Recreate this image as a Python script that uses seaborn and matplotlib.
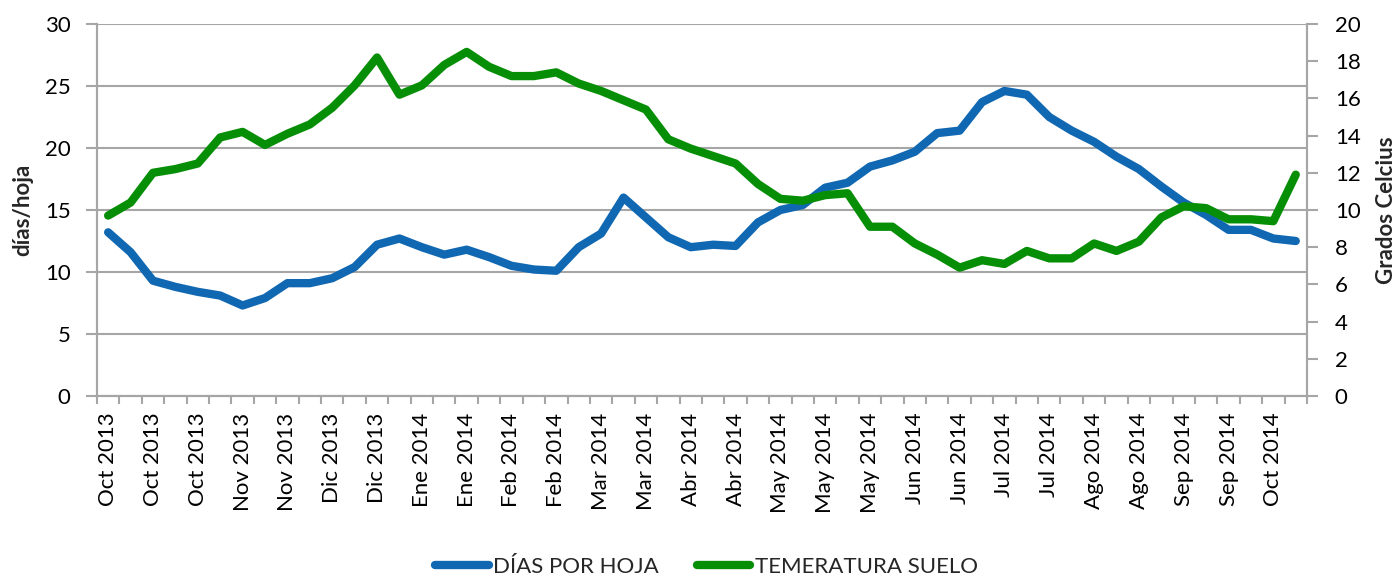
import numpy as np
import pandas as pd
import matplotlib
matplotlib.use('Agg')
import matplotlib.pyplot as plt
import seaborn as sns

# días por hoja (eje izquierdo), un valor por categoría
dias_por_hoja = [13.2, 11.6, 9.3, 8.8, 8.4, 8.1, 7.3, 7.9, 9.1, 9.1, 9.5,
                 10.4, 12.2, 12.7, 12.0, 11.4, 11.8, 11.2, 10.5, 10.2, 10.1,
                 12.0, 13.1, 16.0, 14.4, 12.8, 12.0, 12.2, 12.1, 14.0, 15.0, 15.4,
                 16.8, 17.2, 18.5, 19.0, 19.7, 21.2, 21.4, 23.7, 24.6, 24.3, 22.5,
                 21.4, 20.5, 19.3, 18.3, 16.9, 15.6, 14.6, 13.4, 13.4, 12.7, 12.5]

# temperatura del suelo (eje derecho, grados)
temp_suelo = [9.7, 10.4, 12.0, 12.2, 12.5, 13.9, 14.2, 13.5, 14.1, 14.6, 15.5,
              16.7, 18.2, 16.2, 16.7, 17.8, 18.5, 17.7, 17.2, 17.2, 17.4,
              16.8, 16.4, 15.9, 15.4, 13.8, 13.3, 12.9, 12.5, 11.4, 10.6, 10.5,
              10.8, 10.9, 9.1, 9.1, 8.2, 7.6, 6.9, 7.3, 7.1, 7.8, 7.4,
              7.4, 8.2, 7.8, 8.3, 9.6, 10.2, 10.1, 9.5, 9.5, 9.4, 11.9]

# etiquetas del eje x (una cada dos categorías)
etiquetas = ['Oct 2013', 'Oct 2013', 'Oct 2013', 'Nov 2013', 'Nov 2013',
             'Dic 2013', 'Dic 2013', 'Ene 2014', 'Ene 2014', 'Feb 2014',
             'Feb 2014', 'Mar 2014', 'Mar 2014', 'Abr 2014', 'Abr 2014',
             'May 2014', 'May 2014', 'May 2014', 'Jun 2014', 'Jun 2014',
             'Jul 2014', 'Jul 2014', 'Ago 2014', 'Ago 2014', 'Sep 2014',
             'Sep 2014', 'Oct 2014']

df = pd.DataFrame({'idx': np.arange(len(dias_por_hoja)),
                   'dias': dias_por_hoja,
                   'temp': temp_suelo})

sns.set_theme(style='white')
plt.rcParams['font.family'] = ['Lato', 'DejaVu Sans']

azul = '#1168B2'
verde = '#078E07'
gris = '#A6A6A6'

fig, ax = plt.subplots(figsize=(13.99, 5.77), dpi=100)
fig.subplots_adjust(left=0.0693, right=0.9342, top=0.9584, bottom=0.3137)

sns.lineplot(data=df, x='idx', y='dias', ax=ax, color=azul, linewidth=6,
             solid_capstyle='round', solid_joinstyle='round')
ax2 = ax.twinx()
sns.lineplot(data=df, x='idx', y='temp', ax=ax2, color=verde, linewidth=6,
             solid_capstyle='round', solid_joinstyle='round')

n = len(dias_por_hoja)
ax.set_xlim(-0.5, n - 0.5)
ax.set_ylim(0, 30)
ax.set_yticks(range(0, 31, 5))
ax2.set_ylim(0, 20)
ax2.set_yticks(range(0, 21, 2))

ax.yaxis.grid(True, color=gris, linewidth=1.5)
ax.xaxis.grid(False)
ax.set_axisbelow(True)

ax.set_xticks(np.arange(0, n, 2))
ax.set_xticklabels(etiquetas, rotation=90, va='top', ha='center')
ax.set_xticks(np.arange(-0.5, n, 1), minor=True)
ax.tick_params(axis='x', which='major', length=0, pad=12, labelsize=16, labelcolor='black')
ax.tick_params(axis='x', which='minor', length=6, width=1.5, color=gris, bottom=True)
ax.tick_params(axis='y', length=8, width=1.5, color=gris, pad=11, labelsize=16,
               labelcolor='black', left=True)
ax2.tick_params(axis='y', length=8, width=1.5, color=gris, pad=12, labelsize=16,
                labelcolor='black', right=True)

for a in (ax, ax2):
    a.spines['top'].set_visible(False)
    for s in ('left', 'right', 'bottom'):
        a.spines[s].set_color(gris)
        a.spines[s].set_linewidth(1.5)

ax.set_xlabel('')
ax.set_ylabel('días/hoja', fontsize=16, fontweight='bold', va='center', ha='center')
ax.yaxis.set_label_coords(-0.0612, 0.5)
ax2.set_ylabel('Grados Celcius', fontsize=16, fontweight='bold', rotation=90,
               va='center', ha='center')
ax2.yaxis.set_label_coords(1.066, 0.5)

h1 = ax.get_lines()[0]
h2 = ax2.get_lines()[0]
fig.legend(handles=[h1, h2], labels=['DÍAS POR HOJA', 'TEMERATURA SUELO'],
           loc='center', bbox_to_anchor=(0.505, 1 - 567 / 577), ncol=2,
           frameon=False, fontsize=16, handlelength=2.4, handletextpad=0.2,
           columnspacing=1.7)

fig.savefig('out.png', dpi=100)
